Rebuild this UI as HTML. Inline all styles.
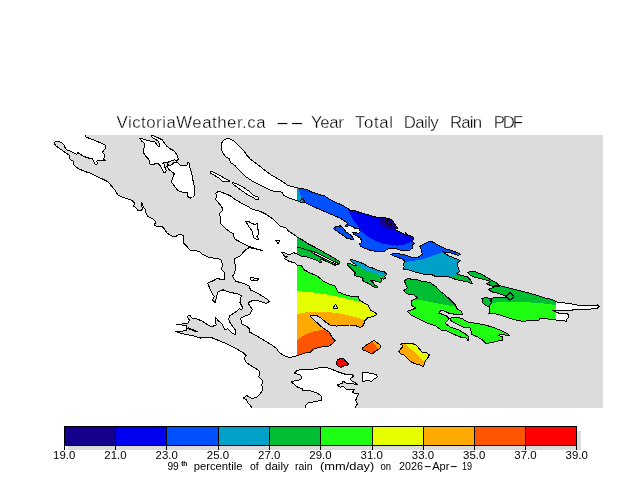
<!DOCTYPE html>
<html><head><meta charset="utf-8"><title>VictoriaWeather.ca -- Year Total Daily Rain PDF</title>
<style>html,body{margin:0;padding:0;background:#fff;width:640px;height:480px;overflow:hidden}svg text{font-family:"Liberation Sans",Arial,sans-serif}</style></head>
<body>
<svg width="640" height="480" viewBox="0 0 640 480" shape-rendering="crispEdges" style="position:absolute;left:0;top:0">
<rect x="53" y="135" width="550" height="273" fill="#dcdcdc"/>
<defs>
<clipPath id="cSS"><polygon points="215.6,193.1 218.8,191.2 223.8,193.1 230,195.6 235,199.4 241.2,203.1 247.5,206.2 252.5,209.4 260,211.2 266.2,214.4 272.5,218.8 277.5,223.8 280.6,226.2 286.2,228.1 288.5,231 293.8,234.4 297.2,237.2 303.2,240.4 308.9,244.2 315.4,247.5 322,251.2 329.5,255.4 335.1,258.7 339.8,261.5 340,263.9 337.9,263.4 336,262 336.5,264.3 335.1,265.3 332.3,263.9 327.6,262 324.8,260.6 322,259.2 320.1,259.7 322,262 320.1,262.5 316.4,260.1 310.8,258.2 306.1,256.8 301.4,256.4 298.6,254.5 296.9,253.8 293.8,252.8 291.9,253.5 288.8,255 285,252.8 281.9,252.5 284.4,256.2 287.5,256.9 284.4,258.5 288.8,261.2 295,263.1 297,265.2 301.7,265.9 304.1,269.8 310.3,273 317.3,276.1 322.8,280.8 329.1,283.9 335.3,286.2 337.7,291.7 344.7,294.8 351.7,296.4 358,296.4 359.5,300.3 365,303.4 368.1,305 370.5,310.5 374.4,312 376.7,314.4 372.8,316.7 368.1,317.5 365,320.6 363.4,325.3 360.3,327.7 355.6,325.6 349.4,325 343.1,325 336.9,326.1 330.6,325.3 325.9,322.2 321.2,318.3 317.3,315.9 313.4,315.2 310.3,316 313.4,319.6 318.1,323.6 322.8,328 329.1,332 332.2,337.5 335.3,340.6 332.2,343.8 327.5,346.9 321.2,346.9 313.4,349.2 310.3,352.3 304.1,353.1 297.5,355.6 293.8,356.9 288.8,357.2 283.8,355.6 278.8,351.9 276.2,348.1 270,343.8 262.5,339.4 255,335 249.4,331.9 250,329.4 247.5,326.9 241.9,323.8 240.6,318.1 243.8,316.5 250,314.4 252.5,309.4 250,306.2 248.1,302.8 253.1,300.2 260,301.2 266.2,303.5 269.4,301.9 267.5,299.4 262.5,296.2 256.2,292.5 250.6,290 248.8,285.6 242.5,283.1 235.6,281.2 232.5,276.5 234.4,273.1 235.6,268.8 234.8,262.5 235,258.5 240,256.2 242.5,253.1 246.2,249.4 249.4,247.5 257.5,249.4 262.5,250.6 254.4,248.1 248.8,246.2 241.2,242.5 234.4,238.8 233.1,233.8 230,231.9 225,228.1 221,223.8 220.6,217.5 219.4,213.8 221.9,211.2 222.5,208.1 219.4,203.8 215.6,199.4 216.9,196.2"/></clipPath>
<clipPath id="cGAL"><polygon points="228.8,138.5 233.8,140.6 238.8,145.6 243.8,150.6 246.2,154.4 250,158.8 257.5,164.4 263.8,169.4 271.2,175 278.8,179.4 283,182 287.5,185.3 290,186.1 297.5,188 306.9,189.4 310.6,191.7 318.1,194.1 324.7,195.9 329.4,199.2 335,202 342.5,205.3 347.2,208.1 350,210 352.5,210 360,212.5 368.8,215 377.5,217.5 387.5,218.1 391.2,219.4 393.8,222.5 395.6,225.6 397.5,228.1 395,229.4 400,231.9 405,234.4 405.6,232.5 407.5,235 413.1,236.9 413.8,239.4 411.9,241.2 414.4,243.1 412.5,245 412.5,248.1 410,250 405,250.6 400,250 395,248.1 390,248.1 386.9,249.4 385,251.2 377.5,251.5 371.2,250.6 366.2,248.8 362,247 360.5,245.9 359.3,243.6 361.2,242.8 361.6,240.5 360.1,238.1 356.6,235.8 353.4,234.2 352.7,232.7 355,232.7 358.9,233.4 360.1,231.9 359.7,228.8 355,228.4 352.7,226.4 349.9,225.6 348.4,226 345.6,226.4 345.6,225.2 347.6,224.1 346.8,222.9 344.1,220.7 340.6,218.4 337.8,217.1 334.1,215.6 327.5,212.8 320,209.5 312.5,206.2 305.9,203 300.3,202 295.6,200.2 290,198.3 283.8,195.3 282.5,192.8 280,191.5 275,191.9 268.8,189.4 260,185 252.5,181.2 246.2,176.9 240,171.2 235,165.6 230.6,162.5 229.4,158.8 225.6,156.9 222.5,152.5 221.2,147.5 221.9,142.5 224.4,139.4"/></clipPath>
<clipPath id="cPARK"><polygon points="333.1,228.4 335.9,226.8 340.2,226.8 339.4,225.2 340.9,225.6 342.5,227.6 344.5,229.5 345.6,231.5 349.5,234.2 352.7,237 353.4,239.7 351.9,240.1 349.5,238.1 346.8,238.1 344.1,236.2 340.2,233.4 337,231.1 334.3,229.1"/></clipPath>
<clipPath id="cMAY"><polygon points="390.2,254.2 397.2,253.4 405,255 412,257.3 418.3,257.3 422.2,254.2 421.4,250.3 419.8,246.4 425.3,243.3 430,241.2 433.9,242.5 438.6,245.6 445.6,248.8 453.4,251.1 460.5,254.2 458.1,255.3 450.3,252.7 442.5,251.9 448.8,255.8 456.6,258.9 460.5,260.5 457.3,262.8 458.1,267.5 459.7,271.4 456.6,273.8 461.2,275.3 467.5,276.9 470.6,280 472.2,283.9 467.5,281.6 461.2,280.8 455,279.2 448.8,276.9 442.5,276.1 436.2,276.9 431.6,274.5 425.3,274.5 419.1,273 412.8,271.4 408.9,269.8 403.4,269.8 404.2,266.7 403.4,263.6 405,261.2 401.9,258.9 395.6,256.6"/></clipPath>
<clipPath id="cPREV"><polygon points="350.1,259.4 353,260.1 358.1,261.6 364,264.1 369.1,267 374.2,268.5 377.8,270.7 383.7,271.4 386.6,274.3 384.8,276.2 385.5,278.3 383.7,279.1 380.7,278.3 381.5,280.5 380.7,282.4 377.1,281.6 372.7,280.2 370.5,280.5 373.4,282.7 374.2,284.9 377.1,286 377.1,287.5 374.2,287.1 370.5,284.9 366.9,282.7 364,281.6 362.5,279.8 363.2,278.3 360.7,277.2 357.4,276.5 354.5,275.4 354.1,274.1 355.9,273.2 353.8,271.4 351.9,269.2 349.4,266.7 347.2,264.5 347.9,263.4 350.1,263.8 353.8,265.2 356.7,265.6 354.5,263.8 352.3,262.3 350.8,260.5"/></clipPath>
<clipPath id="cNP"><polygon points="404.4,280.6 407.5,278.8 416.2,279.4 421.2,281.2 430,282.5 436.2,286.9 440,291.2 445,295 450,299.4 455,304.4 457.5,309.4 461.2,311.2 463.1,315 457.5,314.8 448.8,313.1 445,311.2 440.6,310.6 438.8,313.1 446.2,315.6 449.4,318.8 445,323.1 450,326.9 457.5,329.4 464.4,333.1 468.8,336.9 468.1,340.6 466.2,338.1 460,336.9 452.5,333.8 446.2,330.6 441.2,330 436.2,326.2 427.5,323.1 418.8,318.8 411.2,315 407.5,311.2 411.2,310 415.6,308.1 411.9,305.6 411.2,301.2 417.5,297.5 413.8,295 406.9,293.8 403.8,290.6 407.5,287.5 405.6,284.4"/></clipPath>
<clipPath id="cSP"><polygon points="450,318.1 455,317.5 461.2,318.1 467.5,321.9 475,323.1 485,325 493.8,327.5 502.5,331.2 507.5,333.8 510,335.6 505,335 500,334.4 498.8,335.6 503.1,336.9 502.5,340.6 496.2,341.2 492.5,342.5 486.2,343.5 482.5,340 477.5,336.9 471.9,334.4 470.6,329.4 469.4,327.2 465,327.8 460,325.6 453.8,322.5 450,320"/></clipPath>
<clipPath id="cSAM"><polygon points="467,272.2 474.1,271.4 481.9,274.5 489.7,279.2 495.9,282.3 499.1,285.4 492.8,286.2 486.6,283.9 490.5,281.5 483.4,279.2 475.6,277.6 470.2,275.3"/></clipPath>
<clipPath id="cSAT"><polygon points="488.9,289.3 494.4,287 500.6,285.8 508.4,287.8 517.8,290.1 527.2,292.5 535,294.8 544.4,297.9 552.2,299.5 556.2,301.9 563.8,302.8 571.2,303.8 577.5,305.2 586.2,305.6 597.5,305 599,306.5 597.5,308.1 591.2,309 580,309.4 573.8,309 571.9,310.6 565,311 556.2,310 552.5,310 555,311.5 558.8,313.1 567.5,313.8 569,316.2 566.9,319.4 566.2,321.2 561.2,320.6 553.8,319.8 546.2,318.8 539.4,319 538.8,321 528.8,320.6 522.5,321.4 514.7,319.8 506.9,317.5 500.6,315.1 494.4,313.6 488.9,313.2 489.7,308.9 488.9,306.5 491.2,303.4 491.2,299.5 493.6,297.2 500.6,297.2 506.1,297.2 505.3,295.6 497.5,293.2 491.2,291.7"/></clipPath>
<clipPath id="cSATSM"><polygon points="481.9,298.7 485.8,297.2 490.5,298.7 491.2,303.4 488.9,306.5 485.8,305.8 482.7,302.6"/></clipPath>
<clipPath id="cPORT"><polygon points="362.5,348.1 365.6,345.6 370.6,342.5 373.8,340.2 376.9,342.5 380,345 380.6,347.5 377.5,350 374.4,351.9 373.1,354 370,353.1 366.2,351.2 363.1,350"/></clipPath>
<clipPath id="cMOR"><polygon points="398.8,351.9 400.6,348.8 403.1,346.2 400.6,344 403.8,343.5 406.9,343.8 411.2,343.1 416.2,345 419.4,348.8 422.5,352.5 425.6,352.2 429.4,354.8 428.1,357.5 425.6,360.6 424.4,364.4 423.1,366.5 420,365 415,363.8 410,361.2 406.9,358.1 403.8,355 400.6,353.8"/></clipPath>
<clipPath id="cRED"><polygon points="336.2,362.5 337.5,360 340.6,358.5 343.8,358.8 345.6,361.2 348.5,364 346.9,365.6 343.1,366.2 340.6,367.5 337.5,365.6 336.2,363.8"/></clipPath>
<clipPath id="cX"><rect x="297" y="130" width="259" height="280"/></clipPath>
</defs>
<polygon points="53,135 85,135 86.2,137.2 91.2,139 96.2,141 101.2,143.1 105,145 105.6,147.5 104.4,149.8 102.5,152.2 104.4,154.4 104.8,156.9 103.1,159 105.6,160.2 102.5,160 99.4,160 96.9,161 97.2,164 95.2,164.4 93.8,161.2 92.5,158.8 87.5,157.8 83.1,156 79.4,153.8 78.1,152.5 76.9,154.4 72.5,152.2 66.9,149.8 65,147.5 63.8,144.8 61.9,143.1 58.8,141.6 55.6,141.5 54.4,143.1 55.6,145.6 58.8,147.9 62.5,150.6 66.2,153.1 70,155.6 69.4,158.8 71.2,160 73.1,161.2 73.8,164.4 75.6,166.9 80,169.4 86.2,171.9 90,173.1 96.2,176.2 102.5,179 107.5,181.5 111.2,185.6 115,190 117.5,194.4 120,196.2 126.2,198.5 131.9,200.2 134.4,203.1 133.8,206.2 136.2,208.1 137.5,210 141.2,211 142.5,208.8 141.2,203.1 141.9,202.5 143.5,207.5 145.6,210 146.2,213.8 148.1,216.5 150,217.5 153.1,218.8 155.6,221.9 154.4,225 157.5,226.9 161.9,226.2 164.4,228.8 166.9,233.1 171.2,235.6 175,236.9 178.1,235 180.6,234.4 183.1,235.6 183.8,240 183.8,243.1 186.2,245.6 190,250 196.2,250.6 200,251.9 202.5,254.4 207.5,256.9 213.8,258.1 218.8,258.8 221.2,260 222.5,265 221.2,269.4 224.4,272.5 225,276.2 224.4,279.4 220,279.4 218.1,278.1 212.5,281 207.5,283.1 210,288.8 213.1,295 214.4,296.2 212.5,300 215,302.5 215.6,300 216.9,295.6 218.1,291.9 223.1,289.8 226.2,291.2 232.5,292.8 237.5,293.8 241.2,295.6 240,302.5 242.5,307.5 241.9,309.4 239.4,308.8 235,312.5 230,315.6 228.5,318.8 230,322.5 232.5,326.2 235,329.4 235.6,335 231.2,332.5 228.1,328.8 225,329.4 221.9,323.8 218.1,320.6 215.6,317.5 215.6,322.5 216.2,325 213.1,326.2 210,326.2 206.2,323.8 201.2,320.6 196.2,318.8 191.9,318.1 190,315.6 188.1,315.6 187.5,317.5 189.4,320 188.1,323.1 182.5,323.8 180,325 176.9,324.4 186.2,325.6 186.9,328.1 186.2,330.6 181.2,331.2 175.6,331 178.8,332.8 186.2,334.4 195,336.2 200,338.1 205,337.2 211.2,337.5 217.5,340 225,343.1 232.5,346.9 237.5,349.4 243.8,353.1 246.2,355.6 244.4,358.1 245.6,361.9 250,365 256.2,368.8 259.4,371.2 259.8,375.6 258.1,376.2 262.5,380.6 261.9,385 262.8,390 260,393.8 256.9,396.9 253.1,398.5 249.4,397.5 246.9,395.4 245,396.9 243.1,398.1 246.2,399.4 248.1,403.1 251.9,407.5 251.9,409 53,409" fill="#fff"/>
<polygon points="305.2,409 305.2,407.5 306,405.3 308.1,402.7 315.4,401.7 321.7,400.1 321.1,395.9 317.5,393.3 312.3,391.2 308.1,390.4 302.9,391 302.4,389 297.7,387.3 294.6,384.5 291.2,382.1 295.6,380.3 300.8,379.8 301.7,376.7 299.3,374.6 294.1,373.3 296.7,370.6 301.9,369.4 309.2,369.2 316.5,368.9 319.6,367.1 324.8,367.1 330,368.5 336.2,371.2 343.8,373.8 348.1,375 351.9,374.4 353.8,376.2 350.6,378.1 351.2,380.6 355,382.5 357.5,384.4 352.5,383.8 346.9,384 343.8,381.2 341.9,381 343.1,383.1 337.5,385 340,387.2 343.8,386.5 346.9,390 351.2,389.4 354.4,389.8 352.5,391.9 355,393.8 358.5,393.8 356.9,397.5 355.6,400.6 357.5,403.8 355,407.5 355,409" fill="#fff"/>
<polygon points="215.6,193.1 218.8,191.2 223.8,193.1 230,195.6 235,199.4 241.2,203.1 247.5,206.2 252.5,209.4 260,211.2 266.2,214.4 272.5,218.8 277.5,223.8 280.6,226.2 286.2,228.1 288.5,231 293.8,234.4 297.2,237.2 303.2,240.4 308.9,244.2 315.4,247.5 322,251.2 329.5,255.4 335.1,258.7 339.8,261.5 340,263.9 337.9,263.4 336,262 336.5,264.3 335.1,265.3 332.3,263.9 327.6,262 324.8,260.6 322,259.2 320.1,259.7 322,262 320.1,262.5 316.4,260.1 310.8,258.2 306.1,256.8 301.4,256.4 298.6,254.5 296.9,253.8 293.8,252.8 291.9,253.5 288.8,255 285,252.8 281.9,252.5 284.4,256.2 287.5,256.9 284.4,258.5 288.8,261.2 295,263.1 297,265.2 301.7,265.9 304.1,269.8 310.3,273 317.3,276.1 322.8,280.8 329.1,283.9 335.3,286.2 337.7,291.7 344.7,294.8 351.7,296.4 358,296.4 359.5,300.3 365,303.4 368.1,305 370.5,310.5 374.4,312 376.7,314.4 372.8,316.7 368.1,317.5 365,320.6 363.4,325.3 360.3,327.7 355.6,325.6 349.4,325 343.1,325 336.9,326.1 330.6,325.3 325.9,322.2 321.2,318.3 317.3,315.9 313.4,315.2 310.3,316 313.4,319.6 318.1,323.6 322.8,328 329.1,332 332.2,337.5 335.3,340.6 332.2,343.8 327.5,346.9 321.2,346.9 313.4,349.2 310.3,352.3 304.1,353.1 297.5,355.6 293.8,356.9 288.8,357.2 283.8,355.6 278.8,351.9 276.2,348.1 270,343.8 262.5,339.4 255,335 249.4,331.9 250,329.4 247.5,326.9 241.9,323.8 240.6,318.1 243.8,316.5 250,314.4 252.5,309.4 250,306.2 248.1,302.8 253.1,300.2 260,301.2 266.2,303.5 269.4,301.9 267.5,299.4 262.5,296.2 256.2,292.5 250.6,290 248.8,285.6 242.5,283.1 235.6,281.2 232.5,276.5 234.4,273.1 235.6,268.8 234.8,262.5 235,258.5 240,256.2 242.5,253.1 246.2,249.4 249.4,247.5 257.5,249.4 262.5,250.6 254.4,248.1 248.8,246.2 241.2,242.5 234.4,238.8 233.1,233.8 230,231.9 225,228.1 221,223.8 220.6,217.5 219.4,213.8 221.9,211.2 222.5,208.1 219.4,203.8 215.6,199.4 216.9,196.2" fill="#fff"/>
<polygon points="139.4,138.5 142.5,138.8 146.2,140 150.6,141.2 154.4,141.5 156.2,143.8 158.1,146 159.8,146.2 159.4,143.8 158.1,141.2 155,139 151.9,137.2 151.5,135.2 154.4,136.2 158.8,138.1 162.5,140 164.4,143.1 166.9,146.2 170,148.8 173.8,150.6 176.2,153.8 177.9,156.2 178.1,159.4 176.9,160.6 174.4,159.8 171.2,161 168.1,162.2 166.2,162.8 164.4,162.2 162.8,163.5 164.4,164.4 165,167.5 166.2,170 165.6,172.5 163.8,172.2 161.9,168.8 160,165.6 158.1,163.8 156.2,163.5 153.1,164.4 150,164 149.4,161.2 148.8,159 146.2,156.9 144.4,154.4 143.1,151.2 143.8,148.8 144.8,145.6 144.4,143.1 141.9,141.2" fill="#fff"/>
<polygon points="167.5,163.1 168.8,165.6 171.2,165 173.8,162.8 176.9,161.9 180,165 183.8,165.4 186.9,165.6 188.1,162.2 189.4,163.5 189.8,167.5 191.2,171.9 192.5,176.2 193.1,181.2 194.4,186.2 194.8,191.2 194.4,195.6 192.5,197.5 190.6,198.1 188.1,196.9 187.5,194.4 188.1,193.1 185,192.2 180,191.9 177.5,190 175.6,187.5 173.1,184.4 171.2,181.9 172.5,178.8 173.5,175.6 174.4,173.8 171.9,171.9 168.8,169.4 166.9,166.2" fill="#fff"/>
<polygon points="210,171.2 213.8,172.2 220,175.6 225.6,178.8 230,181.2 226.2,181.5 222.5,181.2 218.8,178.1 213.8,175 210.2,172.8" fill="#fff"/>
<polygon points="232.5,182.2 237.5,184.4 243.8,187.5 250,191.9 253.8,195.6 258.1,196.9 259,198.8 256.2,199.8 253.1,197.5 248.8,195.6 245,192.8 240,189.4 235,185.6 232.5,183.8" fill="#fff"/>
<polygon points="228.8,138.5 233.8,140.6 238.8,145.6 243.8,150.6 246.2,154.4 250,158.8 257.5,164.4 263.8,169.4 271.2,175 278.8,179.4 283,182 287.5,185.3 290,186.1 297.5,188 306.9,189.4 310.6,191.7 318.1,194.1 324.7,195.9 329.4,199.2 335,202 342.5,205.3 347.2,208.1 350,210 352.5,210 360,212.5 368.8,215 377.5,217.5 387.5,218.1 391.2,219.4 393.8,222.5 395.6,225.6 397.5,228.1 395,229.4 400,231.9 405,234.4 405.6,232.5 407.5,235 413.1,236.9 413.8,239.4 411.9,241.2 414.4,243.1 412.5,245 412.5,248.1 410,250 405,250.6 400,250 395,248.1 390,248.1 386.9,249.4 385,251.2 377.5,251.5 371.2,250.6 366.2,248.8 362,247 360.5,245.9 359.3,243.6 361.2,242.8 361.6,240.5 360.1,238.1 356.6,235.8 353.4,234.2 352.7,232.7 355,232.7 358.9,233.4 360.1,231.9 359.7,228.8 355,228.4 352.7,226.4 349.9,225.6 348.4,226 345.6,226.4 345.6,225.2 347.6,224.1 346.8,222.9 344.1,220.7 340.6,218.4 337.8,217.1 334.1,215.6 327.5,212.8 320,209.5 312.5,206.2 305.9,203 300.3,202 295.6,200.2 290,198.3 283.8,195.3 282.5,192.8 280,191.5 275,191.9 268.8,189.4 260,185 252.5,181.2 246.2,176.9 240,171.2 235,165.6 230.6,162.5 229.4,158.8 225.6,156.9 222.5,152.5 221.2,147.5 221.9,142.5 224.4,139.4" fill="#fff"/>
<polygon points="333.1,228.4 335.9,226.8 340.2,226.8 339.4,225.2 340.9,225.6 342.5,227.6 344.5,229.5 345.6,231.5 349.5,234.2 352.7,237 353.4,239.7 351.9,240.1 349.5,238.1 346.8,238.1 344.1,236.2 340.2,233.4 337,231.1 334.3,229.1" fill="#fff"/>
<polygon points="390.2,254.2 397.2,253.4 405,255 412,257.3 418.3,257.3 422.2,254.2 421.4,250.3 419.8,246.4 425.3,243.3 430,241.2 433.9,242.5 438.6,245.6 445.6,248.8 453.4,251.1 460.5,254.2 458.1,255.3 450.3,252.7 442.5,251.9 448.8,255.8 456.6,258.9 460.5,260.5 457.3,262.8 458.1,267.5 459.7,271.4 456.6,273.8 461.2,275.3 467.5,276.9 470.6,280 472.2,283.9 467.5,281.6 461.2,280.8 455,279.2 448.8,276.9 442.5,276.1 436.2,276.9 431.6,274.5 425.3,274.5 419.1,273 412.8,271.4 408.9,269.8 403.4,269.8 404.2,266.7 403.4,263.6 405,261.2 401.9,258.9 395.6,256.6" fill="#fff"/>
<polygon points="350.1,259.4 353,260.1 358.1,261.6 364,264.1 369.1,267 374.2,268.5 377.8,270.7 383.7,271.4 386.6,274.3 384.8,276.2 385.5,278.3 383.7,279.1 380.7,278.3 381.5,280.5 380.7,282.4 377.1,281.6 372.7,280.2 370.5,280.5 373.4,282.7 374.2,284.9 377.1,286 377.1,287.5 374.2,287.1 370.5,284.9 366.9,282.7 364,281.6 362.5,279.8 363.2,278.3 360.7,277.2 357.4,276.5 354.5,275.4 354.1,274.1 355.9,273.2 353.8,271.4 351.9,269.2 349.4,266.7 347.2,264.5 347.9,263.4 350.1,263.8 353.8,265.2 356.7,265.6 354.5,263.8 352.3,262.3 350.8,260.5" fill="#fff"/>
<polygon points="404.4,280.6 407.5,278.8 416.2,279.4 421.2,281.2 430,282.5 436.2,286.9 440,291.2 445,295 450,299.4 455,304.4 457.5,309.4 461.2,311.2 463.1,315 457.5,314.8 448.8,313.1 445,311.2 440.6,310.6 438.8,313.1 446.2,315.6 449.4,318.8 445,323.1 450,326.9 457.5,329.4 464.4,333.1 468.8,336.9 468.1,340.6 466.2,338.1 460,336.9 452.5,333.8 446.2,330.6 441.2,330 436.2,326.2 427.5,323.1 418.8,318.8 411.2,315 407.5,311.2 411.2,310 415.6,308.1 411.9,305.6 411.2,301.2 417.5,297.5 413.8,295 406.9,293.8 403.8,290.6 407.5,287.5 405.6,284.4" fill="#fff"/>
<polygon points="450,318.1 455,317.5 461.2,318.1 467.5,321.9 475,323.1 485,325 493.8,327.5 502.5,331.2 507.5,333.8 510,335.6 505,335 500,334.4 498.8,335.6 503.1,336.9 502.5,340.6 496.2,341.2 492.5,342.5 486.2,343.5 482.5,340 477.5,336.9 471.9,334.4 470.6,329.4 469.4,327.2 465,327.8 460,325.6 453.8,322.5 450,320" fill="#fff"/>
<polygon points="467,272.2 474.1,271.4 481.9,274.5 489.7,279.2 495.9,282.3 499.1,285.4 492.8,286.2 486.6,283.9 490.5,281.5 483.4,279.2 475.6,277.6 470.2,275.3" fill="#fff"/>
<polygon points="488.9,289.3 494.4,287 500.6,285.8 508.4,287.8 517.8,290.1 527.2,292.5 535,294.8 544.4,297.9 552.2,299.5 556.2,301.9 563.8,302.8 571.2,303.8 577.5,305.2 586.2,305.6 597.5,305 599,306.5 597.5,308.1 591.2,309 580,309.4 573.8,309 571.9,310.6 565,311 556.2,310 552.5,310 555,311.5 558.8,313.1 567.5,313.8 569,316.2 566.9,319.4 566.2,321.2 561.2,320.6 553.8,319.8 546.2,318.8 539.4,319 538.8,321 528.8,320.6 522.5,321.4 514.7,319.8 506.9,317.5 500.6,315.1 494.4,313.6 488.9,313.2 489.7,308.9 488.9,306.5 491.2,303.4 491.2,299.5 493.6,297.2 500.6,297.2 506.1,297.2 505.3,295.6 497.5,293.2 491.2,291.7" fill="#fff"/>
<polygon points="481.9,298.7 485.8,297.2 490.5,298.7 491.2,303.4 488.9,306.5 485.8,305.8 482.7,302.6" fill="#fff"/>
<polygon points="362.5,348.1 365.6,345.6 370.6,342.5 373.8,340.2 376.9,342.5 380,345 380.6,347.5 377.5,350 374.4,351.9 373.1,354 370,353.1 366.2,351.2 363.1,350" fill="#fff"/>
<polygon points="398.8,351.9 400.6,348.8 403.1,346.2 400.6,344 403.8,343.5 406.9,343.8 411.2,343.1 416.2,345 419.4,348.8 422.5,352.5 425.6,352.2 429.4,354.8 428.1,357.5 425.6,360.6 424.4,364.4 423.1,366.5 420,365 415,363.8 410,361.2 406.9,358.1 403.8,355 400.6,353.8" fill="#fff"/>
<polygon points="336.2,362.5 337.5,360 340.6,358.5 343.8,358.8 345.6,361.2 348.5,364 346.9,365.6 343.1,366.2 340.6,367.5 337.5,365.6 336.2,363.8" fill="#fff"/>
<polygon points="362.5,372.5 366.2,372.5 371.2,373.5 376.2,374.4 377.5,376.9 374.4,378.8 371.9,381.2 367.5,380.6 362.5,381.5 362.2,376.9" fill="#fff"/>
<polygon points="344.5,226.8 349,226.3 352.7,227 355,229 359.7,229.3 359.9,232 358.8,233.3 353,233 354,234.5 357,236.2 360.1,238.5 361.4,240.7 361,242.8 359.5,243.2 356,240 353.4,239.7 352.7,237 349.5,234.2 345.6,231.5 344.5,229.5 343.5,228" fill="#f4f4f4"/>
<g clip-path="url(#cX)">
<g clip-path="url(#cGAL)">
<rect x="297" y="180" width="130" height="80" fill="#0050ff"/>
<polygon points="297,185 298.6,185 299.2,191.5 303.8,203 297,203" fill="#00a0c8"/>
<polygon points="347.5,204 347.5,209.4 352.5,218.8 358.8,227.5 365,235 372.5,239.4 381.2,243.1 390,245 397.5,245.6 405,244.4 411.2,241.9 420,238 420,200" fill="#0000f0"/>
<polygon points="378.1,219.4 380,216 392,216 394.4,223.8 398,227.8 393.8,229.6 388.8,229.4 383.8,226.9 380,223.1" fill="#14008c"/>
</g>
<g clip-path="url(#cPARK)"><rect x="330" y="220" width="30" height="25" fill="#0050ff"/></g>
<g clip-path="url(#cMAY)">
<rect x="385" y="235" width="95" height="55" fill="#00a0c8"/>
<polygon points="385,235 470,235 470,256 460,254.6 450,253 442.5,252 434.7,255 426.9,258.1 416,260.5 405,262 385,262" fill="#0050ff"/>
<polygon points="446,278.5 458.5,274.3 475,274 475,290 445,290" fill="#00be32"/>
</g>
<g clip-path="url(#cPREV)">
<rect x="345" y="255" width="45" height="35" fill="#00be32"/>
<polygon points="345,255 390,255 390,276.2 383.7,275.4 377.8,274.7 372.7,272.9 366.9,270.7 361,268.5 357.8,265.9 352.5,264.4 345,261" fill="#00a0c8"/>
</g>
<g clip-path="url(#cSS)">
<rect x="297" y="230" width="90" height="130" fill="#00be32"/>
<polygon points="297,262 380,262 380,360 297,360" fill="#1eff14"/>
<polygon points="297,291 313.4,292.5 329.1,294.8 344.7,298.3 358.8,301.5 366,303.5 380,307 380,360 297,360" fill="#e6ff00"/>
<polygon points="297,314.5 302.5,312.8 313.4,311.6 329.1,312 344.7,314.4 357.2,317.5 365,320 380,324 380,360 297,360" fill="#ffaa00"/>
<polygon points="297,340 305.6,334.4 315,331.2 323.6,329.7 329,331.2 345,337 345,360 297,360" fill="#ff5500"/>
</g>
<g clip-path="url(#cNP)">
<rect x="400" y="275" width="75" height="70" fill="#00be32"/>
<polygon points="400,301.5 411.2,300.6 420,300 432.5,302.5 445,305 455,306.2 470,307 470,345 400,345" fill="#1eff14"/>
</g>
<g clip-path="url(#cSP)"><rect x="445" y="315" width="70" height="32" fill="#1eff14"/></g>
<g clip-path="url(#cSAM)"><rect x="465" y="268" width="40" height="22" fill="#00be32"/></g>
<g clip-path="url(#cSATSM)"><rect x="480" y="295" width="14" height="14" fill="#00be32"/></g>
<g clip-path="url(#cSAT)">
<rect x="485" y="283" width="75" height="42" fill="#00be32"/>
<polygon points="485,304.5 491,303.4 500.6,301.8 514.7,301.8 527.2,302.3 538.1,302.9 547.5,303.9 556.1,305 560,305.5 560,325 485,325" fill="#1eff14"/>
</g>
<g clip-path="url(#cPORT)">
<rect x="360" y="338" width="24" height="18" fill="#ff5500"/>
<polygon points="372.5,341.9 378.8,349.4 384,349 384,338 372.5,338" fill="#ffaa00"/>
</g>
<g clip-path="url(#cMOR)">
<rect x="396" y="340" width="36" height="28" fill="#ffaa00"/>
<polygon points="406.2,344.4 423.8,361.2 432,361 432,340 406,340" fill="#e6ff00"/>
</g>
<g clip-path="url(#cRED)"><rect x="334" y="356" width="16" height="13" fill="#ff0000"/></g>
</g>
<g fill="none" stroke="#000" stroke-width="1" stroke-linejoin="round">
<polyline points="85,135 86.2,137.2 91.2,139 96.2,141 101.2,143.1 105,145 105.6,147.5 104.4,149.8 102.5,152.2 104.4,154.4 104.8,156.9 103.1,159 105.6,160.2 102.5,160 99.4,160 96.9,161 97.2,164 95.2,164.4 93.8,161.2 92.5,158.8 87.5,157.8 83.1,156 79.4,153.8 78.1,152.5 76.9,154.4 72.5,152.2 66.9,149.8 65,147.5 63.8,144.8 61.9,143.1 58.8,141.6 55.6,141.5 54.4,143.1 55.6,145.6 58.8,147.9 62.5,150.6 66.2,153.1 70,155.6 69.4,158.8 71.2,160 73.1,161.2 73.8,164.4 75.6,166.9 80,169.4 86.2,171.9 90,173.1 96.2,176.2 102.5,179 107.5,181.5 111.2,185.6 115,190 117.5,194.4 120,196.2 126.2,198.5 131.9,200.2 134.4,203.1 133.8,206.2 136.2,208.1 137.5,210 141.2,211 142.5,208.8 141.2,203.1 141.9,202.5 143.5,207.5 145.6,210 146.2,213.8 148.1,216.5 150,217.5 153.1,218.8 155.6,221.9 154.4,225 157.5,226.9 161.9,226.2 164.4,228.8 166.9,233.1 171.2,235.6 175,236.9 178.1,235 180.6,234.4 183.1,235.6 183.8,240 183.8,243.1 186.2,245.6 190,250 196.2,250.6 200,251.9 202.5,254.4 207.5,256.9 213.8,258.1 218.8,258.8 221.2,260 222.5,265 221.2,269.4 224.4,272.5 225,276.2 224.4,279.4 220,279.4 218.1,278.1 212.5,281 207.5,283.1 210,288.8 213.1,295 214.4,296.2 212.5,300 215,302.5 215.6,300 216.9,295.6 218.1,291.9 223.1,289.8 226.2,291.2 232.5,292.8 237.5,293.8 241.2,295.6 240,302.5 242.5,307.5 241.9,309.4 239.4,308.8 235,312.5 230,315.6 228.5,318.8 230,322.5 232.5,326.2 235,329.4 235.6,335 231.2,332.5 228.1,328.8 225,329.4 221.9,323.8 218.1,320.6 215.6,317.5 215.6,322.5 216.2,325 213.1,326.2 210,326.2 206.2,323.8 201.2,320.6 196.2,318.8 191.9,318.1 190,315.6 188.1,315.6 187.5,317.5 189.4,320 188.1,323.1 182.5,323.8 180,325 176.9,324.4 186.2,325.6 186.9,328.1 186.2,330.6 181.2,331.2 175.6,331 178.8,332.8 186.2,334.4 195,336.2 200,338.1 205,337.2 211.2,337.5 217.5,340 225,343.1 232.5,346.9 237.5,349.4 243.8,353.1 246.2,355.6 244.4,358.1 245.6,361.9 250,365 256.2,368.8 259.4,371.2 259.8,375.6 258.1,376.2 262.5,380.6 261.9,385 262.8,390 260,393.8 256.9,396.9 253.1,398.5 249.4,397.5 246.9,395.4 245,396.9 243.1,398.1 246.2,399.4 248.1,403.1 251.9,407.5"/>
<polyline points="305.2,407.5 306,405.3 308.1,402.7 315.4,401.7 321.7,400.1 321.1,395.9 317.5,393.3 312.3,391.2 308.1,390.4 302.9,391 302.4,389 297.7,387.3 294.6,384.5 291.2,382.1 295.6,380.3 300.8,379.8 301.7,376.7 299.3,374.6 294.1,373.3 296.7,370.6 301.9,369.4 309.2,369.2 316.5,368.9 319.6,367.1 324.8,367.1 330,368.5 336.2,371.2 343.8,373.8 348.1,375 351.9,374.4 353.8,376.2 350.6,378.1 351.2,380.6 355,382.5 357.5,384.4 352.5,383.8 346.9,384 343.8,381.2 341.9,381 343.1,383.1 337.5,385 340,387.2 343.8,386.5 346.9,390 351.2,389.4 354.4,389.8 352.5,391.9 355,393.8 358.5,393.8 356.9,397.5 355.6,400.6 357.5,403.8 355,407.5"/>
<polygon points="215.6,193.1 218.8,191.2 223.8,193.1 230,195.6 235,199.4 241.2,203.1 247.5,206.2 252.5,209.4 260,211.2 266.2,214.4 272.5,218.8 277.5,223.8 280.6,226.2 286.2,228.1 288.5,231 293.8,234.4 297.2,237.2 303.2,240.4 308.9,244.2 315.4,247.5 322,251.2 329.5,255.4 335.1,258.7 339.8,261.5 340,263.9 337.9,263.4 336,262 336.5,264.3 335.1,265.3 332.3,263.9 327.6,262 324.8,260.6 322,259.2 320.1,259.7 322,262 320.1,262.5 316.4,260.1 310.8,258.2 306.1,256.8 301.4,256.4 298.6,254.5 296.9,253.8 293.8,252.8 291.9,253.5 288.8,255 285,252.8 281.9,252.5 284.4,256.2 287.5,256.9 284.4,258.5 288.8,261.2 295,263.1 297,265.2 301.7,265.9 304.1,269.8 310.3,273 317.3,276.1 322.8,280.8 329.1,283.9 335.3,286.2 337.7,291.7 344.7,294.8 351.7,296.4 358,296.4 359.5,300.3 365,303.4 368.1,305 370.5,310.5 374.4,312 376.7,314.4 372.8,316.7 368.1,317.5 365,320.6 363.4,325.3 360.3,327.7 355.6,325.6 349.4,325 343.1,325 336.9,326.1 330.6,325.3 325.9,322.2 321.2,318.3 317.3,315.9 313.4,315.2 310.3,316 313.4,319.6 318.1,323.6 322.8,328 329.1,332 332.2,337.5 335.3,340.6 332.2,343.8 327.5,346.9 321.2,346.9 313.4,349.2 310.3,352.3 304.1,353.1 297.5,355.6 293.8,356.9 288.8,357.2 283.8,355.6 278.8,351.9 276.2,348.1 270,343.8 262.5,339.4 255,335 249.4,331.9 250,329.4 247.5,326.9 241.9,323.8 240.6,318.1 243.8,316.5 250,314.4 252.5,309.4 250,306.2 248.1,302.8 253.1,300.2 260,301.2 266.2,303.5 269.4,301.9 267.5,299.4 262.5,296.2 256.2,292.5 250.6,290 248.8,285.6 242.5,283.1 235.6,281.2 232.5,276.5 234.4,273.1 235.6,268.8 234.8,262.5 235,258.5 240,256.2 242.5,253.1 246.2,249.4 249.4,247.5 257.5,249.4 262.5,250.6 254.4,248.1 248.8,246.2 241.2,242.5 234.4,238.8 233.1,233.8 230,231.9 225,228.1 221,223.8 220.6,217.5 219.4,213.8 221.9,211.2 222.5,208.1 219.4,203.8 215.6,199.4 216.9,196.2"/>
<polygon points="139.4,138.5 142.5,138.8 146.2,140 150.6,141.2 154.4,141.5 156.2,143.8 158.1,146 159.8,146.2 159.4,143.8 158.1,141.2 155,139 151.9,137.2 151.5,135.2 154.4,136.2 158.8,138.1 162.5,140 164.4,143.1 166.9,146.2 170,148.8 173.8,150.6 176.2,153.8 177.9,156.2 178.1,159.4 176.9,160.6 174.4,159.8 171.2,161 168.1,162.2 166.2,162.8 164.4,162.2 162.8,163.5 164.4,164.4 165,167.5 166.2,170 165.6,172.5 163.8,172.2 161.9,168.8 160,165.6 158.1,163.8 156.2,163.5 153.1,164.4 150,164 149.4,161.2 148.8,159 146.2,156.9 144.4,154.4 143.1,151.2 143.8,148.8 144.8,145.6 144.4,143.1 141.9,141.2"/>
<polygon points="167.5,163.1 168.8,165.6 171.2,165 173.8,162.8 176.9,161.9 180,165 183.8,165.4 186.9,165.6 188.1,162.2 189.4,163.5 189.8,167.5 191.2,171.9 192.5,176.2 193.1,181.2 194.4,186.2 194.8,191.2 194.4,195.6 192.5,197.5 190.6,198.1 188.1,196.9 187.5,194.4 188.1,193.1 185,192.2 180,191.9 177.5,190 175.6,187.5 173.1,184.4 171.2,181.9 172.5,178.8 173.5,175.6 174.4,173.8 171.9,171.9 168.8,169.4 166.9,166.2"/>
<polygon points="210,171.2 213.8,172.2 220,175.6 225.6,178.8 230,181.2 226.2,181.5 222.5,181.2 218.8,178.1 213.8,175 210.2,172.8"/>
<polygon points="232.5,182.2 237.5,184.4 243.8,187.5 250,191.9 253.8,195.6 258.1,196.9 259,198.8 256.2,199.8 253.1,197.5 248.8,195.6 245,192.8 240,189.4 235,185.6 232.5,183.8"/>
<polygon points="228.8,138.5 233.8,140.6 238.8,145.6 243.8,150.6 246.2,154.4 250,158.8 257.5,164.4 263.8,169.4 271.2,175 278.8,179.4 283,182 287.5,185.3 290,186.1 297.5,188 306.9,189.4 310.6,191.7 318.1,194.1 324.7,195.9 329.4,199.2 335,202 342.5,205.3 347.2,208.1 350,210 352.5,210 360,212.5 368.8,215 377.5,217.5 387.5,218.1 391.2,219.4 393.8,222.5 395.6,225.6 397.5,228.1 395,229.4 400,231.9 405,234.4 405.6,232.5 407.5,235 413.1,236.9 413.8,239.4 411.9,241.2 414.4,243.1 412.5,245 412.5,248.1 410,250 405,250.6 400,250 395,248.1 390,248.1 386.9,249.4 385,251.2 377.5,251.5 371.2,250.6 366.2,248.8 362,247 360.5,245.9 359.3,243.6 361.2,242.8 361.6,240.5 360.1,238.1 356.6,235.8 353.4,234.2 352.7,232.7 355,232.7 358.9,233.4 360.1,231.9 359.7,228.8 355,228.4 352.7,226.4 349.9,225.6 348.4,226 345.6,226.4 345.6,225.2 347.6,224.1 346.8,222.9 344.1,220.7 340.6,218.4 337.8,217.1 334.1,215.6 327.5,212.8 320,209.5 312.5,206.2 305.9,203 300.3,202 295.6,200.2 290,198.3 283.8,195.3 282.5,192.8 280,191.5 275,191.9 268.8,189.4 260,185 252.5,181.2 246.2,176.9 240,171.2 235,165.6 230.6,162.5 229.4,158.8 225.6,156.9 222.5,152.5 221.2,147.5 221.9,142.5 224.4,139.4"/>
<polygon points="333.1,228.4 335.9,226.8 340.2,226.8 339.4,225.2 340.9,225.6 342.5,227.6 344.5,229.5 345.6,231.5 349.5,234.2 352.7,237 353.4,239.7 351.9,240.1 349.5,238.1 346.8,238.1 344.1,236.2 340.2,233.4 337,231.1 334.3,229.1"/>
<polygon points="390.2,254.2 397.2,253.4 405,255 412,257.3 418.3,257.3 422.2,254.2 421.4,250.3 419.8,246.4 425.3,243.3 430,241.2 433.9,242.5 438.6,245.6 445.6,248.8 453.4,251.1 460.5,254.2 458.1,255.3 450.3,252.7 442.5,251.9 448.8,255.8 456.6,258.9 460.5,260.5 457.3,262.8 458.1,267.5 459.7,271.4 456.6,273.8 461.2,275.3 467.5,276.9 470.6,280 472.2,283.9 467.5,281.6 461.2,280.8 455,279.2 448.8,276.9 442.5,276.1 436.2,276.9 431.6,274.5 425.3,274.5 419.1,273 412.8,271.4 408.9,269.8 403.4,269.8 404.2,266.7 403.4,263.6 405,261.2 401.9,258.9 395.6,256.6"/>
<polygon points="350.1,259.4 353,260.1 358.1,261.6 364,264.1 369.1,267 374.2,268.5 377.8,270.7 383.7,271.4 386.6,274.3 384.8,276.2 385.5,278.3 383.7,279.1 380.7,278.3 381.5,280.5 380.7,282.4 377.1,281.6 372.7,280.2 370.5,280.5 373.4,282.7 374.2,284.9 377.1,286 377.1,287.5 374.2,287.1 370.5,284.9 366.9,282.7 364,281.6 362.5,279.8 363.2,278.3 360.7,277.2 357.4,276.5 354.5,275.4 354.1,274.1 355.9,273.2 353.8,271.4 351.9,269.2 349.4,266.7 347.2,264.5 347.9,263.4 350.1,263.8 353.8,265.2 356.7,265.6 354.5,263.8 352.3,262.3 350.8,260.5"/>
<polygon points="404.4,280.6 407.5,278.8 416.2,279.4 421.2,281.2 430,282.5 436.2,286.9 440,291.2 445,295 450,299.4 455,304.4 457.5,309.4 461.2,311.2 463.1,315 457.5,314.8 448.8,313.1 445,311.2 440.6,310.6 438.8,313.1 446.2,315.6 449.4,318.8 445,323.1 450,326.9 457.5,329.4 464.4,333.1 468.8,336.9 468.1,340.6 466.2,338.1 460,336.9 452.5,333.8 446.2,330.6 441.2,330 436.2,326.2 427.5,323.1 418.8,318.8 411.2,315 407.5,311.2 411.2,310 415.6,308.1 411.9,305.6 411.2,301.2 417.5,297.5 413.8,295 406.9,293.8 403.8,290.6 407.5,287.5 405.6,284.4"/>
<polygon points="450,318.1 455,317.5 461.2,318.1 467.5,321.9 475,323.1 485,325 493.8,327.5 502.5,331.2 507.5,333.8 510,335.6 505,335 500,334.4 498.8,335.6 503.1,336.9 502.5,340.6 496.2,341.2 492.5,342.5 486.2,343.5 482.5,340 477.5,336.9 471.9,334.4 470.6,329.4 469.4,327.2 465,327.8 460,325.6 453.8,322.5 450,320"/>
<polygon points="467,272.2 474.1,271.4 481.9,274.5 489.7,279.2 495.9,282.3 499.1,285.4 492.8,286.2 486.6,283.9 490.5,281.5 483.4,279.2 475.6,277.6 470.2,275.3"/>
<polygon points="488.9,289.3 494.4,287 500.6,285.8 508.4,287.8 517.8,290.1 527.2,292.5 535,294.8 544.4,297.9 552.2,299.5 556.2,301.9 563.8,302.8 571.2,303.8 577.5,305.2 586.2,305.6 597.5,305 599,306.5 597.5,308.1 591.2,309 580,309.4 573.8,309 571.9,310.6 565,311 556.2,310 552.5,310 555,311.5 558.8,313.1 567.5,313.8 569,316.2 566.9,319.4 566.2,321.2 561.2,320.6 553.8,319.8 546.2,318.8 539.4,319 538.8,321 528.8,320.6 522.5,321.4 514.7,319.8 506.9,317.5 500.6,315.1 494.4,313.6 488.9,313.2 489.7,308.9 488.9,306.5 491.2,303.4 491.2,299.5 493.6,297.2 500.6,297.2 506.1,297.2 505.3,295.6 497.5,293.2 491.2,291.7"/>
<polygon points="481.9,298.7 485.8,297.2 490.5,298.7 491.2,303.4 488.9,306.5 485.8,305.8 482.7,302.6"/>
<polygon points="362.5,348.1 365.6,345.6 370.6,342.5 373.8,340.2 376.9,342.5 380,345 380.6,347.5 377.5,350 374.4,351.9 373.1,354 370,353.1 366.2,351.2 363.1,350"/>
<polygon points="398.8,351.9 400.6,348.8 403.1,346.2 400.6,344 403.8,343.5 406.9,343.8 411.2,343.1 416.2,345 419.4,348.8 422.5,352.5 425.6,352.2 429.4,354.8 428.1,357.5 425.6,360.6 424.4,364.4 423.1,366.5 420,365 415,363.8 410,361.2 406.9,358.1 403.8,355 400.6,353.8"/>
<polygon points="336.2,362.5 337.5,360 340.6,358.5 343.8,358.8 345.6,361.2 348.5,364 346.9,365.6 343.1,366.2 340.6,367.5 337.5,365.6 336.2,363.8"/>
<polygon points="362.5,372.5 366.2,372.5 371.2,373.5 376.2,374.4 377.5,376.9 374.4,378.8 371.9,381.2 367.5,380.6 362.5,381.5 362.2,376.9"/>
<polygon points="245.4,221.2 248.3,221.2 251.7,223.3 255,224.6 257.5,223.3 257.7,228.3 258.8,232.5 258.3,235 256.7,236.7 258.8,239.2 256.2,239.3 253.8,237.9 252.9,234.2 251.7,230.4 249.2,227.1 246.7,222.9"/>
<polygon points="275.6,240.2 280,240.8 278,243.8"/>
<polygon points="250.6,278 253,277.5 255.5,279 258.8,278.5 257,280.6 253.5,280 251,280.4"/>
<polygon points="333.2,308 335.4,304.2 337.7,308"/>
<polyline points="187.5,328 192,329.6 197.5,332" stroke-width="1.6"/>
<polygon points="385.5,221.2 388.8,219.4 391.9,223.1 389.4,225.6"/>
<polygon points="506,296.4 510,292.5 514,296.4 510,300.3"/>
<polyline points="299.8,201.3 302.2,198.3 305.9,202.8"/>
<polyline points="296.5,246.8 301,248 306,249.6 311,251.3"/>
</g>
<polygon points="311,250.6 316,252.6 322,255.4 330,259.4 337.5,263 338.5,264.2 336.5,264.2 329,261 321,257.3 315,254.2 311,252" fill="#fff" stroke="#000" stroke-width="1"/>
<rect x="68" y="430.5" width="513" height="19" fill="#dcdcdc"/>
<rect x="64" y="426" width="51.25" height="19" fill="#14008c"/>
<rect x="115.25" y="426" width="51.25" height="19" fill="#0000f0"/>
<rect x="166.5" y="426" width="51.25" height="19" fill="#0050ff"/>
<rect x="217.75" y="426" width="51.25" height="19" fill="#00a0c8"/>
<rect x="269" y="426" width="51.25" height="19" fill="#00be32"/>
<rect x="320.25" y="426" width="51.25" height="19" fill="#1eff14"/>
<rect x="371.5" y="426" width="51.25" height="19" fill="#e6ff00"/>
<rect x="422.75" y="426" width="51.25" height="19" fill="#ffaa00"/>
<rect x="474" y="426" width="51.25" height="19" fill="#ff5500"/>
<rect x="525.25" y="426" width="51.25" height="19" fill="#ff0000"/>
<g stroke="#000" stroke-width="1" fill="none">
<rect x="64.5" y="426.5" width="512" height="19"/>
<line x1="64.5" y1="426" x2="64.5" y2="449.5"/>
<line x1="115.5" y1="426" x2="115.5" y2="449.5"/>
<line x1="166.5" y1="426" x2="166.5" y2="449.5"/>
<line x1="218.5" y1="426" x2="218.5" y2="449.5"/>
<line x1="269.5" y1="426" x2="269.5" y2="449.5"/>
<line x1="320.5" y1="426" x2="320.5" y2="449.5"/>
<line x1="372.5" y1="426" x2="372.5" y2="449.5"/>
<line x1="423.5" y1="426" x2="423.5" y2="449.5"/>
<line x1="474.5" y1="426" x2="474.5" y2="449.5"/>
<line x1="525.5" y1="426" x2="525.5" y2="449.5"/>
<line x1="576.5" y1="426" x2="576.5" y2="449.5"/>
</g>
<g font-family="Liberation Sans, Arial, sans-serif" fill="#000">
<text x="53.1" y="458.5" font-size="10.6" textLength="22.2" lengthAdjust="spacingAndGlyphs">19.0</text>
<text x="104.35" y="458.5" font-size="10.6" textLength="22.2" lengthAdjust="spacingAndGlyphs">21.0</text>
<text x="155.6" y="458.5" font-size="10.6" textLength="22.2" lengthAdjust="spacingAndGlyphs">23.0</text>
<text x="206.85" y="458.5" font-size="10.6" textLength="22.2" lengthAdjust="spacingAndGlyphs">25.0</text>
<text x="258.1" y="458.5" font-size="10.6" textLength="22.2" lengthAdjust="spacingAndGlyphs">27.0</text>
<text x="309.35" y="458.5" font-size="10.6" textLength="22.2" lengthAdjust="spacingAndGlyphs">29.0</text>
<text x="360.6" y="458.5" font-size="10.6" textLength="22.2" lengthAdjust="spacingAndGlyphs">31.0</text>
<text x="411.85" y="458.5" font-size="10.6" textLength="22.2" lengthAdjust="spacingAndGlyphs">33.0</text>
<text x="463.1" y="458.5" font-size="10.6" textLength="22.2" lengthAdjust="spacingAndGlyphs">35.0</text>
<text x="514.35" y="458.5" font-size="10.6" textLength="22.2" lengthAdjust="spacingAndGlyphs">37.0</text>
<text x="565.6" y="458.5" font-size="10.6" textLength="22.2" lengthAdjust="spacingAndGlyphs">39.0</text>
<text x="167.5" y="470" font-size="10.8" textLength="11.25" lengthAdjust="spacingAndGlyphs">99</text>
<text x="193.75" y="470" font-size="10.8" textLength="48.75" lengthAdjust="spacingAndGlyphs">percentile</text>
<text x="250" y="470" font-size="10.8" textLength="8.75" lengthAdjust="spacingAndGlyphs">of</text>
<text x="265" y="470" font-size="10.8" textLength="23.75" lengthAdjust="spacingAndGlyphs">daily</text>
<text x="295" y="470" font-size="10.8" textLength="17.5" lengthAdjust="spacingAndGlyphs">rain</text>
<text x="320.1" y="470" font-size="10.8" textLength="54.2" lengthAdjust="spacingAndGlyphs">(mm/day)</text>
<text x="380.4" y="470" font-size="10.8" textLength="10.6" lengthAdjust="spacingAndGlyphs">on</text>
<text x="181.2" y="465.8" font-size="7.2" font-weight="bold" textLength="6.2" lengthAdjust="spacingAndGlyphs">th</text>
<text y="470" font-size="10.8"><tspan x="399" textLength="23.9" lengthAdjust="spacingAndGlyphs">2026</tspan><tspan x="423.8" dy="0.1" font-size="12.5" textLength="8" lengthAdjust="spacingAndGlyphs">-</tspan><tspan x="432.2" dy="-0.1" textLength="17.2" lengthAdjust="spacingAndGlyphs">Apr</tspan><tspan x="449.8" dy="0.1" font-size="12.5" textLength="8" lengthAdjust="spacingAndGlyphs">-</tspan><tspan x="461.9" dy="-0.1" textLength="10.1" lengthAdjust="spacingAndGlyphs">19</tspan></text>
<text transform="translate(275.3,127.7) scale(2.6,1)" font-size="16.8" stroke="#fff" stroke-width="0.3">--</text>
<text x="116.5" y="127.7" font-size="16.8" stroke="#fff" stroke-width="0.3" textLength="149" lengthAdjust="spacing">VictoriaWeather.ca</text>
<text x="311" y="127.7" font-size="16.8" stroke="#fff" stroke-width="0.3" textLength="32.75" lengthAdjust="spacing">Year</text>
<text x="355" y="127.7" font-size="16.8" stroke="#fff" stroke-width="0.3" textLength="38" lengthAdjust="spacing">Total</text>
<text x="403.75" y="127.7" font-size="16.8" stroke="#fff" stroke-width="0.3" textLength="35" lengthAdjust="spacing">Daily</text>
<text x="450" y="127.7" font-size="16.8" stroke="#fff" stroke-width="0.3" textLength="32" lengthAdjust="spacing">Rain</text>
<text x="493.75" y="127.7" font-size="16.8" stroke="#fff" stroke-width="0.3" textLength="29.25" lengthAdjust="spacing">PDF</text>
</g>
</svg>
</body></html>
